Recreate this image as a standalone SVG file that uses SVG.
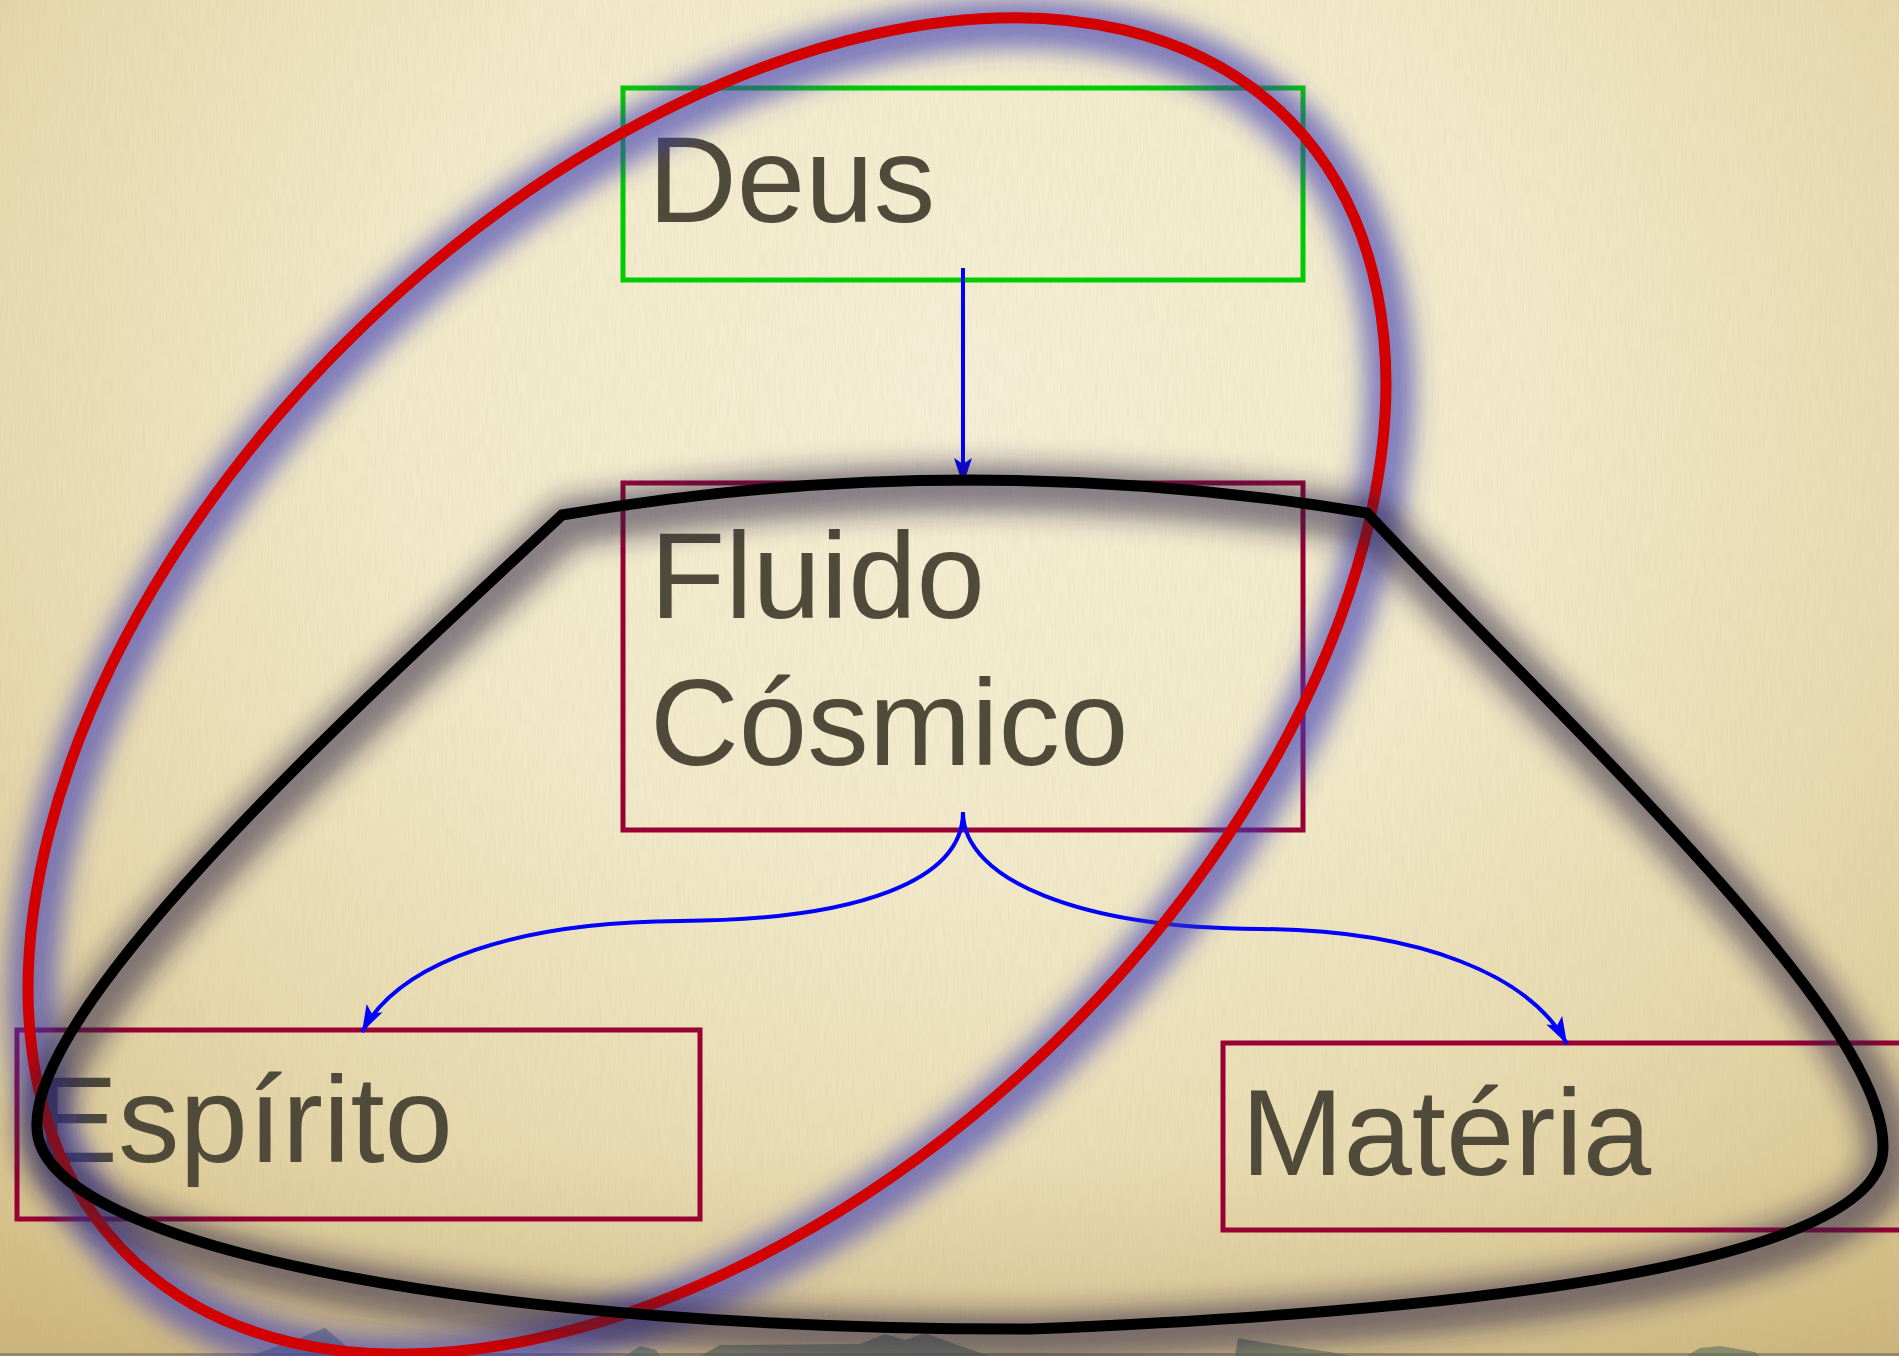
<svg xmlns="http://www.w3.org/2000/svg" width="1899" height="1356" viewBox="0 0 1899 1356">
<defs>
  <radialGradient id="bg" gradientUnits="userSpaceOnUse" cx="960" cy="380" r="1250" gradientTransform="translate(960 380) scale(1.15 1) translate(-960 -380)">
    <stop offset="0" stop-color="#f5efd6"/>
    <stop offset="0.4" stop-color="#f1e9c9"/>
    <stop offset="0.7" stop-color="#e7d9ae"/>
    <stop offset="1" stop-color="#d6c088"/>
  </radialGradient>
  <linearGradient id="bottomShade" x1="0" y1="0" x2="0" y2="1">
    <stop offset="0" stop-color="#c9b27a" stop-opacity="0"/>
    <stop offset="1" stop-color="#b9a06a" stop-opacity="0.35"/>
  </linearGradient>
  <filter id="glow" x="-10%" y="-10%" width="120%" height="120%">
    <feGaussianBlur stdDeviation="12"/>
  </filter>
  <filter id="shadow" x="-10%" y="-10%" width="120%" height="120%">
    <feGaussianBlur stdDeviation="13"/>
  </filter>
  <filter id="grain" x="0" y="0" width="100%" height="100%">
    <feTurbulence type="fractalNoise" baseFrequency="0.6 0.04" numOctaves="2" seed="3"/>
    <feColorMatrix type="matrix" values="0 0 0 0 0.45  0 0 0 0 0.38  0 0 0 0 0.2  0 0 0 0.9 -0.3"/>
  </filter>
  <marker id="arrow" markerUnits="userSpaceOnUse" markerWidth="32" markerHeight="22" viewBox="-30 -11 32 22" refX="0" refY="0" orient="auto">
    <path d="M0,0 L-27,-9 L-21,0 L-27,9 Z" fill="#0000ff"/>
  </marker>
</defs>
<style>
  .box{fill:none;stroke:#990033;stroke-width:5}
  .box-top{fill:none;stroke:#00cc00;stroke-width:5}
  .label{font-family:"Liberation Sans",Arial,sans-serif;font-size:123px;fill:#4f4a3a}
  .conn{fill:none;stroke:#0000ff;stroke-width:4;marker-end:url(#arrow)}
  .hill{fill:#6f7d63;opacity:0.75}
</style>

<g id="background">
  <rect x="0" y="0" width="1899" height="1356" fill="url(#bg)"/>
  <rect x="0" y="1150" width="1899" height="206" fill="url(#bottomShade)"/>
  <rect x="0" y="0" width="1899" height="1356" filter="url(#grain)" opacity="0.2"/>
  <path class="hill" d="M250,1356 L300,1338 L325,1328 L345,1345 L360,1356 Z" fill="#5a6a9a"/>
  <path class="hill" d="M625,1356 L640,1346 L656,1350 L660,1356 Z"/>
  <path class="hill" d="M700,1356 L720,1345 L860,1344 L885,1334 L905,1340 L925,1333 L960,1346 L990,1356 Z"/>
  <path class="hill" d="M1235,1356 L1238,1338 L1260,1342 L1330,1352 L1350,1356 Z"/>
  <path class="hill" d="M1686,1356 L1700,1348 L1720,1346 L1755,1352 L1760,1356 Z"/>
  <rect x="0" y="1353" width="1899" height="3" fill="#6b6a58" opacity="0.6"/>
</g>

<g id="node-deus">
  <rect class="box-top" x="623" y="88" width="680" height="192"/>
  <text class="label" x="648" y="222">Deus</text>
</g>

<g id="node-fluido">
  <rect class="box" x="623" y="483" width="680" height="347"/>
  <text class="label" x="650" y="618">Fluido</text>
  <text class="label" x="650" y="765">Cósmico</text>
</g>

<g id="node-espirito">
  <rect class="box" x="17" y="1030" width="683" height="189"/>
  <text class="label" x="36" y="1162">Espírito</text>
</g>

<g id="node-materia">
  <rect class="box" x="1223" y="1043" width="700" height="187"/>
  <text class="label" x="1241" y="1175">Matéria</text>
</g>

<g id="connectors">
  <path class="conn" d="M963,268 L963,485"/>
  <path class="conn" d="M963,812 C963,880 860,920 680,921 C520,922 400,960 362,1032"/>
  <path class="conn" d="M963,812 C963,880 1080,928 1260,929 C1420,930 1530,975 1567,1044"/>
</g>

<g id="overlays">
  <g id="red-ellipse">
    <ellipse cx="711" cy="692" rx="812" ry="498" fill="none" stroke="#3c3cb4" stroke-opacity="0.62" stroke-width="50" filter="url(#glow)" transform="rotate(-44 711 692)"/>
    <ellipse cx="707" cy="686" rx="812" ry="498" fill="none" stroke="#d20000" stroke-width="11" transform="rotate(-44 707 686)"/>
  </g>
  <g id="black-shape">
    <path d="M562,515 Q965,446 1367,513 C1560,720 1885,1015 1883,1147 C1885,1260 1500,1310 1030,1329 C500,1330 40,1250 37,1128 C30,1000 380,685 562,515 Z" fill="none" stroke="#2a2244" stroke-opacity="0.55" stroke-width="48" stroke-linejoin="miter" filter="url(#shadow)" transform="translate(5 8)"/>
    <path d="M562,515 Q965,446 1367,513 C1560,720 1885,1015 1883,1147 C1885,1260 1500,1310 1030,1329 C500,1330 40,1250 37,1128 C30,1000 380,685 562,515 Z" fill="none" stroke="#000000" stroke-width="11" stroke-linejoin="miter"/>
  </g>
</g>
</svg>
